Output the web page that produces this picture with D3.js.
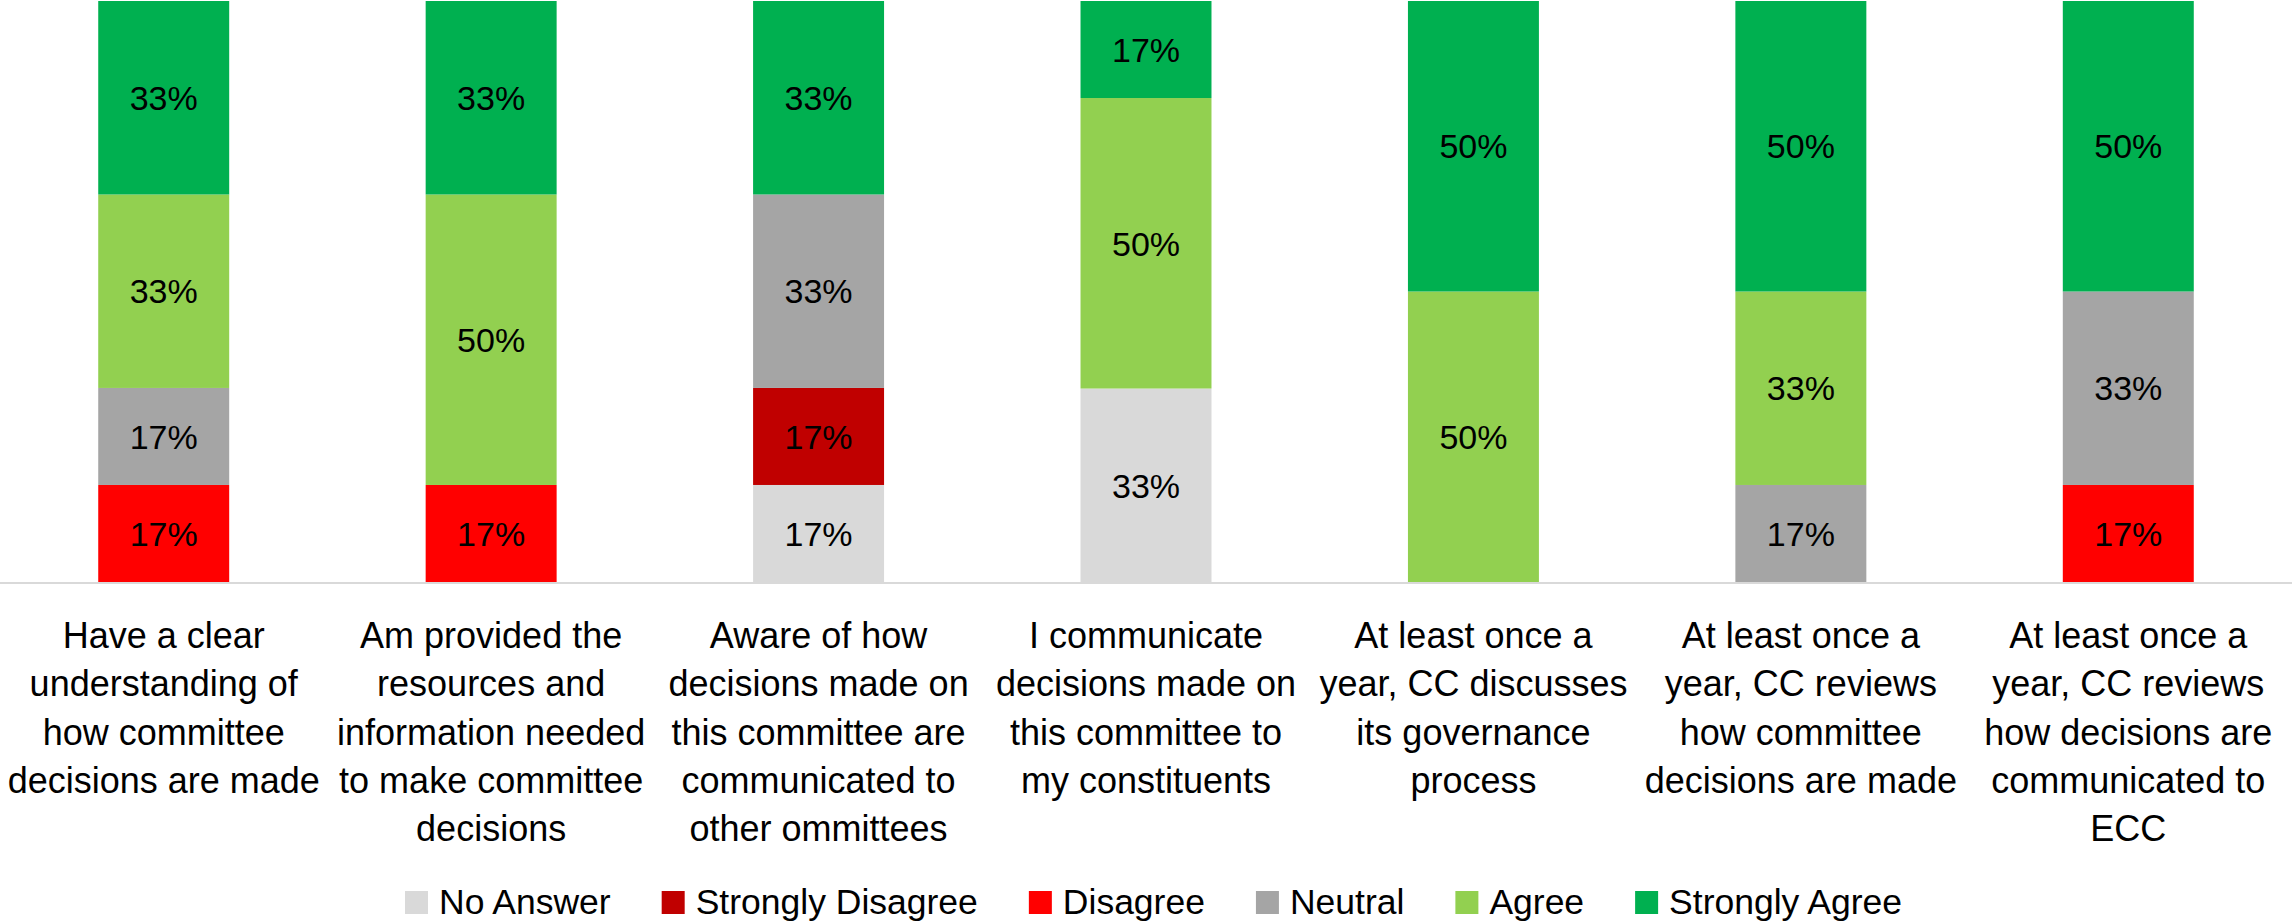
<!DOCTYPE html>
<html>
<head>
<meta charset="utf-8">
<script src="https://cdn.jsdelivr.net/npm/d3@7"></script>
<style>
  body { margin: 0; background: #fff; }
  svg text { font-family: "Liberation Sans", Arial, sans-serif; fill: #000; }
</style>
</head>
<body>
<svg id="chart" width="2292" height="922"></svg>
<script>
// perguntas (uma linha por linha de texto do rotulo)
var questions = [
  ["Have a clear", "understanding of", "how committee", "decisions are made"],
  ["Am provided the", "resources and", "information needed", "to make committee", "decisions"],
  ["Aware of how", "decisions made on", "this committee are", "communicated to", "other ommittees"],
  ["I communicate", "decisions made on", "this committee to", "my constituents"],
  ["At least once a", "year, CC discusses", "its governance", "process"],
  ["At least once a", "year, CC reviews", "how committee", "decisions are made"],
  ["At least once a", "year, CC reviews", "how decisions are", "communicated to", "ECC"]
];

var seriesNames = ["No Answer", "Strongly Disagree", "Disagree", "Neutral", "Agree", "Strongly Agree"];
var seriesColors = ["#D9D9D9", "#C00000", "#FF0000", "#A5A5A5", "#92D050", "#00B050"];

// percentuais por serie, na ordem das perguntas
var noAnswer         = [0,    0,    16.7, 33.3, 0,  0,    0];
var stronglyDisagree = [0,    0,    16.7, 0,    0,  0,    0];
var disagree         = [16.7, 16.7, 0,    0,    0,  0,    16.7];
var neutral          = [16.7, 0,    33.3, 0,    0,  16.7, 33.3];
var agree            = [33.3, 50,   0,    50,   50, 33.3, 0];
var stronglyAgree    = [33.3, 33.3, 33.3, 16.7, 50, 50,   50];

var seriesValues = [noAnswer, stronglyDisagree, disagree, neutral, agree, stronglyAgree];

var width = 2292, height = 922;
var svg = d3.select("#chart");

// tabela para o stack
var rows = questions.map(function(q, i){
  var r = {idx: i};
  seriesNames.forEach(function(s, j){ r[s] = seriesValues[j][i]; });
  return r;
});

var x = d3.scaleBand()
    .domain(d3.range(questions.length))
    .range([0, width])
    .paddingInner(0.6)
    .paddingOuter(0.3);

var y = d3.scaleLinear()
    .domain([0, 100])
    .range([582, 1]);

var color = d3.scaleOrdinal().domain(seriesNames).range(seriesColors);

var stacked = d3.stack().keys(seriesNames)(rows);

var layers = svg.append("g")
    .attr("class", "layers")
  .selectAll("g")
    .data(stacked)
  .enter().append("g")
    .attr("fill", function(d){ return color(d.key); });

layers.selectAll("rect")
    .data(function(d){ return d.filter(function(p){ return p[1] - p[0] > 0; }); })
  .enter().append("rect")
    .attr("x", function(d){ return x(d.data.idx); })
    .attr("width", x.bandwidth())
    .attr("y", function(d){ return y(d[1]); })
    .attr("height", function(d){ return y(d[0]) - y(d[1]); });

// rotulos de dados
layers.selectAll("text")
    .data(function(d){ return d.filter(function(p){ return p[1] - p[0] > 0; }); })
  .enter().append("text")
    .attr("x", function(d){ return x(d.data.idx) + x.bandwidth() / 2; })
    .attr("y", function(d){ return (y(d[0]) + y(d[1])) / 2; })
    .attr("dy", "0.36em")
    .attr("text-anchor", "middle")
    .style("font-size", "34px")
    .text(function(d){ return Math.round(d[1] - d[0]) + "%"; });

// eixo x (so a linha)
svg.append("line")
    .attr("x1", 0).attr("x2", width)
    .attr("y1", 583).attr("y2", 583)
    .attr("stroke", "#D9D9D9")
    .attr("stroke-width", 2);

// rotulos das categorias
var cat = svg.append("g").attr("class", "categories")
  .selectAll("text")
    .data(questions)
  .enter().append("text")
    .attr("text-anchor", "middle")
    .style("font-size", "36px")
    .attr("transform", function(d, i){ return "translate(" + (x(i) + x.bandwidth() / 2) + ",648)"; });

cat.selectAll("tspan")
    .data(function(d){ return d; })
  .enter().append("tspan")
    .attr("x", 0)
    .attr("y", function(d, i){ return i * 48.3; })
    .text(function(d){ return d; });

// legenda
var legend = svg.append("g").attr("class", "legend");
var lx = 0;
seriesNames.forEach(function(name, i){
  var item = legend.append("g").attr("transform", "translate(" + lx + ",0)");
  item.append("rect")
      .attr("x", 0).attr("y", 891)
      .attr("width", 23).attr("height", 23)
      .attr("fill", seriesColors[i]);
  var t = item.append("text")
      .attr("x", 34).attr("y", 914)
      .style("font-size", "35.5px")
      .text(name);
  lx += 34 + t.node().getComputedTextLength() + 51;
});
lx -= 51;
legend.attr("transform", "translate(" + (1153.5 - lx / 2) + ",0)");
</script>
</body>
</html>
